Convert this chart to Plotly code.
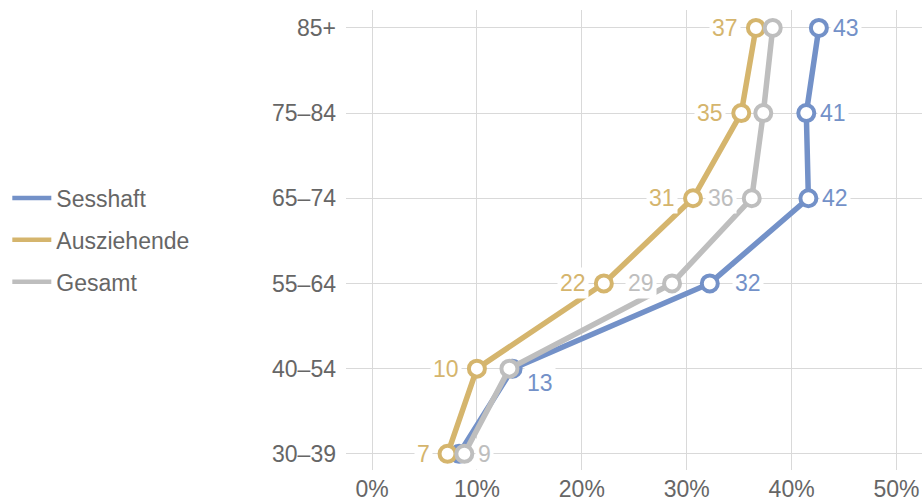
import plotly.graph_objects as go

# age groups (bottom to top) and shares in percent
age_groups = ["30–39", "40–54", "55–64", "65–74", "75–84", "85+"]
sesshaft = [8.3, 13.4, 32.2, 41.6, 41.4, 42.6]
ausziehende = [7.2, 10.0, 22.1, 30.6, 35.2, 36.6]
gesamt = [8.8, 13.1, 28.6, 36.2, 37.3, 38.2]
x_ticks = [0, 10, 20, 30, 40, 50]

BLUE = "#7391c8"
GOLD = "#d5b56d"
GRAY = "#bebebe"
TEXT = "#666666"
FONT = "Liberation Sans"
FS = 23

# where each value label goes: "r" right, "l" left, "" hidden
series = [
    ("Sesshaft", sesshaft, BLUE, ["", "r", "r", "r", "r", "r"]),
    ("Ausziehende", ausziehende, GOLD, ["l", "l", "l", "l", "l", "l"]),
    ("Gesamt", gesamt, GRAY, ["r", "", "l", "l", "", ""]),
]

fig = go.Figure()

for name, vals, color, sides in series:
    fig.add_trace(go.Scatter(
        x=vals, y=age_groups, mode="lines+markers", name=name, showlegend=False,
        line=dict(color=color, width=5.5),
        marker=dict(size=16, color="white", line=dict(color=color, width=4)),
    ))
    # legend entry with line only
    fig.add_trace(go.Scatter(
        x=[None], y=[None], mode="lines", name=name, legendgroup=name,
        line=dict(color=color, width=4.5),
    ))
    for i, (v, side) in enumerate(zip(vals, sides)):
        if not side:
            continue
        xshift = 11 if side == "r" else -15
        yshift = 0
        if name == "Sesshaft" and age_groups[i] == "40–54":
            yshift = -14
        if name == "Sesshaft" and age_groups[i] == "55–64":
            xshift = 22
        fig.add_annotation(
            x=v, y=age_groups[i], text=f"{round(v)}", showarrow=False,
            xanchor="left" if side == "r" else "right",
            xshift=xshift, yshift=yshift,
            font=dict(family=FONT, size=FS, color=color),
            bgcolor="white", borderpad=2,
        )

fig.update_layout(
    width=922, height=501,
    margin=dict(l=346, r=0, t=10, b=31),
    plot_bgcolor="white", paper_bgcolor="white",
    font=dict(family=FONT, size=FS, color=TEXT),
    legend=dict(
        x=-0.588, y=0.5, xanchor="left", yanchor="middle",
        font=dict(size=FS, color=TEXT), tracegroupgap=9, itemwidth=39,
        bgcolor="rgba(0,0,0,0)",
    ),
)
fig.update_xaxes(
    range=[-2.48, 52.43], tickvals=x_ticks, ticktext=[f"{t}%" for t in x_ticks],
    showgrid=True, gridcolor="#d9d9d9", gridwidth=1, zeroline=False,
    showline=False, ticks="", ticklabelstandoff=3, automargin=False,
)
fig.update_yaxes(
    type="category", categoryorder="array", categoryarray=age_groups,
    range=[-0.19, 5.21], showgrid=True, gridcolor="#d9d9d9", gridwidth=1,
    zeroline=False, showline=False, ticks="", ticklabelstandoff=9,
    automargin=False,
)

fig.write_html("out.html", config={"displayModeBar": False},
               post_script="document.body.style.margin='0px';")
